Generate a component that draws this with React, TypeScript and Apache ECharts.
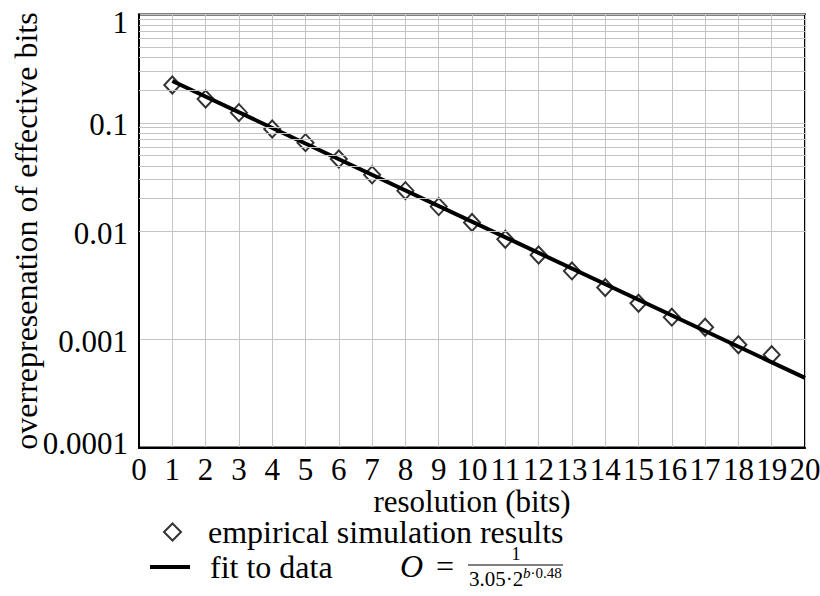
import React, { useEffect, useRef } from "react";
import * as echarts from "echarts";

const xValues = [1, 2, 3, 4, 5, 6, 7, 8, 9, 10, 11, 12, 13, 14, 15, 16, 17, 18, 19];
const empirical = [
  0.223, 0.166, 0.124, 0.0877, 0.0655, 0.0463, 0.033, 0.0236, 0.0168, 0.012,
  0.0084, 0.006, 0.00428, 0.003, 0.00215, 0.0016, 0.00129, 0.00089, 0.00072,
];
const fitX = [1, 20];
const fitY = [0.243, 0.00044];
const yTickLabels = ["0.0001", "0.001", "0.01", "0.1", "1"];
const decades = [0.0001, 0.001, 0.01, 0.1];
const minorSteps = [2, 3, 4, 5, 6, 7, 8, 9];

const FONT = "Liberation Serif";
const GRID = "#c4c4c4";

export default function App() {
  const ref = useRef<HTMLDivElement>(null);
  useEffect(() => {
    if (!ref.current) return;
    const chart = echarts.init(ref.current, undefined, { renderer: "svg" });
    const minorGrid: number[] = [];
    decades.forEach((d) => minorSteps.forEach((k) => minorGrid.push(k * d)));

    const fx = 400;
    const fy = 566;
    const lab = { fontSize: 31, color: "#000", fontFamily: FONT };
    chart.setOption({
      animation: false,
      backgroundColor: "#fff",
      textStyle: { fontFamily: FONT },
      grid: {
        left: 139,
        right: 15,
        top: 14.5,
        bottom: 148.5,
        show: true,
        borderColor: "#000",
        borderWidth: 2,
        backgroundColor: "transparent",
        containLabel: false,
        outerBoundsMode: "none",
      },
      xAxis: {
        type: "value",
        min: 0,
        max: 20,
        interval: 1,
        name: "resolution (bits)",
        nameLocation: "middle",
        nameGap: 38,
        nameMoveOverlap: false,
        nameTextStyle: { fontSize: 31, color: "#000", fontFamily: FONT },
        axisLine: { show: true, lineStyle: { color: "#000", width: 2 } },
        axisTick: { show: false },
        axisLabel: { ...lab, margin: 6 },
        splitLine: { show: true, lineStyle: { color: GRID, width: 1 } },
      },
      yAxis: {
        type: "log",
        logBase: 10,
        min: 0.0001,
        max: 1,
        name: "overrepresenation of effective bits",
        nameLocation: "middle",
        nameGap: 97,
        nameMoveOverlap: false,
        nameTextStyle: { fontSize: 32, color: "#000", fontFamily: FONT },
        axisLine: { show: true, lineStyle: { color: "#000", width: 2 } },
        axisTick: { show: false },
        axisLabel: {
          color: "#000",
          margin: 11,
          formatter: (v: number) => {
            const i = Math.round(Math.log10(v)) + 4;
            const t = yTickLabels[i] ?? "";
            const key = i === 4 ? "top" : i === 0 ? "bot" : "mid";
            return `{${key}|${t}}`;
          },
          rich: {
            top: { ...lab, padding: [15, 0, 0, 0] },
            bot: { ...lab, padding: [0, 0, 9, 0] },
            mid: { ...lab, padding: [4, 0, 0, 0] },
          },
        },
        splitLine: { show: true, lineStyle: { color: GRID, width: 1 } },
      },
      legend: [
        {
          orient: "vertical",
          left: 163,
          top: 516,
          itemWidth: 17,
          itemHeight: 17,
          padding: 0,
          selectedMode: false,
          textStyle: { fontSize: 32, color: "#000", fontFamily: FONT, padding: [0, 0, 0, 22] },
          data: [{ name: "empirical simulation results", icon: "diamond" }],
        },
        {
          orient: "vertical",
          left: 150,
          top: 551,
          itemWidth: 40,
          itemHeight: 4,
          padding: 0,
          selectedMode: false,
          textStyle: { fontSize: 32, color: "#000", fontFamily: FONT, padding: [0, 0, 0, 15] },
          itemStyle: { color: "#000", borderWidth: 0 },
          data: [{ name: "fit to data", icon: "rect" }],
        },
      ],
      series: [
        {
          type: "line",
          data: [],
          silent: true,
          z: 1,
          markLine: {
            silent: true,
            symbol: ["none", "none"],
            label: { show: false },
            lineStyle: { color: GRID, width: 1, type: "solid" },
            emphasis: { disabled: true },
            data: minorGrid.map((v) => ({ yAxis: v })),
          },
        },
        {
          name: "empirical simulation results",
          type: "scatter",
          symbol: "diamond",
          symbolSize: [16, 17],
          z: 3,
          itemStyle: { color: "#fff", borderColor: "#000", borderWidth: 2 },
          data: xValues.map((x, i) => [x, empirical[i]]),
        },
        {
          name: "fit to data",
          type: "line",
          symbol: "none",
          showSymbol: false,
          z: 4,
          lineStyle: { color: "#000", width: 4 },
          itemStyle: { color: "#000" },
          data: fitX.map((x, i) => [x, fitY[i]]),
        },
      ],
      graphic: [
        {
          type: "text",
          x: fx,
          y: fy,
          style: { text: "O", font: `italic 32px ${FONT}`, fill: "#000", verticalAlign: "middle", align: "left" },
        },
        {
          type: "text",
          x: fx + 45,
          y: fy,
          style: { text: "=", font: `32px ${FONT}`, fill: "#000", verticalAlign: "middle", align: "center" },
        },
        {
          type: "text",
          x: fx + 116,
          y: fy - 12,
          style: { text: "1", font: `18px ${FONT}`, fill: "#000", verticalAlign: "middle", align: "center" },
        },
        {
          type: "line",
          shape: { x1: fx + 68, y1: fy - 1, x2: fx + 163, y2: fy - 1 },
          style: { stroke: "#000", lineWidth: 1 },
        },
        {
          type: "text",
          x: fx + 69,
          y: fy + 13,
          style: { text: "3.05·2", font: `21px ${FONT}`, fill: "#000", verticalAlign: "middle", align: "left" },
        },
        {
          type: "text",
          x: fx + 123,
          y: fy + 7,
          style: {
            text: "{b|b}{n|·0.48}",
            fill: "#000",
            verticalAlign: "middle",
            align: "left",
            rich: {
              b: { font: `italic 15px ${FONT}`, fill: "#000" },
              n: { font: `15px ${FONT}`, fill: "#000" },
            },
          },
        },
      ],
    });
    return () => chart.dispose();
  }, []);
  return (
    <div
      ref={ref}
      style={{ position: "fixed", left: 0, top: 0, width: 820, height: 596, background: "#fff" }}
    />
  );
}
